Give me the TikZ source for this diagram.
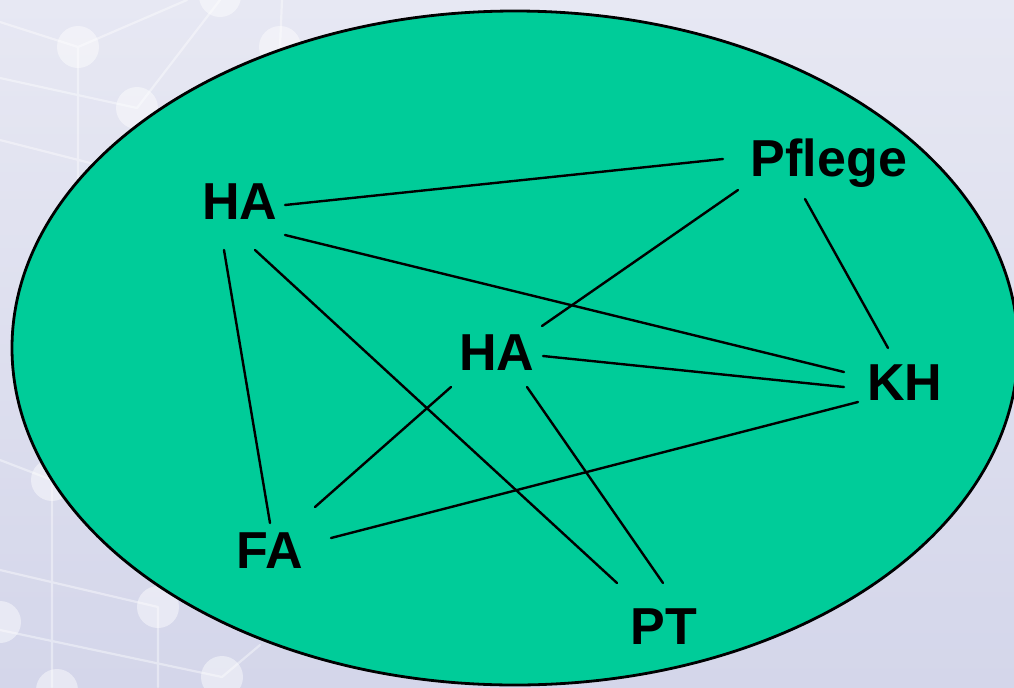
\documentclass[tikz,border=0pt]{standalone}
\usepackage{fontspec}
\setmainfont{Liberation Sans}
\usetikzlibrary{calc}
\definecolor{netzgruen}{RGB}{0,204,153}
\definecolor{hgoben}{RGB}{231,232,243}
\definecolor{hgunten}{RGB}{212,214,234}
\tikzset{
  akteur/.style={font=\bfseries\fontsize{26}{30}\selectfont,inner sep=0pt},
  verbindung/.style={line width=1.2pt},
  netzlinie/.style={white,opacity=.4,line width=1.1pt},
  netzpunkt/.style={white,opacity=.45}
}
\begin{document}
\begin{tikzpicture}[line join=round,line cap=round,x=0.5pt,y=-0.5pt]
%Hintergrund
\useasboundingbox (0,0) rectangle (1014,687);
\shade[top color=hgoben,bottom color=hgunten] (0,0) rectangle (1014,687);
%Netz im Hintergrund
\draw[netzlinie] (0,22)--(78,47)--(187,0) (78,47)--(78,200) (0,78)--(137,108)--(220,0) (0,140)--(110,168) (282,0)--(280,47);
\draw[netzlinie] (0,460)--(52,480)--(52,687) (0,570)--(158,607)--(158,687) (0,630)--(222,677)--(260,645);
\foreach \x/\y in {78/47,137/108,220/-4,280/47,52/480,158/607,0/622,222/677,57/690}
  \fill[netzpunkt] (\x,\y) circle (21);
%Ellipse
\draw[fill=netzgruen,line width=1.4pt] (515,348) ellipse (503 and 337);
%Knoten
\node[akteur] (ha1) at (240,202) {HA};
\node[akteur] (pflege) at (829,163) {Pflege};
\node[akteur] (ha2) at (497,353) {HA};
\node[akteur] (kh) at (905,383) {KH};
\node[akteur] (fa) at (270,551) {FA};
\node[akteur] (pt) at (664,627) {PT};
%Verbindungen
\draw[verbindung] ($(ha1)+(45,3)$)--($(pflege)+(-106,-4)$);
\draw[verbindung] ($(ha1)+(45,33)$)--($(kh)+(-61,-11)$);
\draw[verbindung] ($(ha1)+(-16,48)$)--($(fa)+(0,-28)$);
\draw[verbindung] ($(ha1)+(15,48)$)--($(pt)+(-47,-44)$);
\draw[verbindung] ($(pflege)+(-91,27)$)--($(ha2)+(45,-27)$);
\draw[verbindung] ($(pflege)+(-24,36)$)--($(kh)+(-17,-35)$);
\draw[verbindung] ($(ha2)+(46,3)$)--($(kh)+(-61,4)$);
\draw[verbindung] ($(ha2)+(-46,34)$)--($(fa)+(45,-44)$);
\draw[verbindung] ($(ha2)+(30,34)$)--($(pt)+(-1,-44)$);
\draw[verbindung] ($(fa)+(61,-13)$)--($(kh)+(-47,19)$);
\end{tikzpicture}
\end{document}
